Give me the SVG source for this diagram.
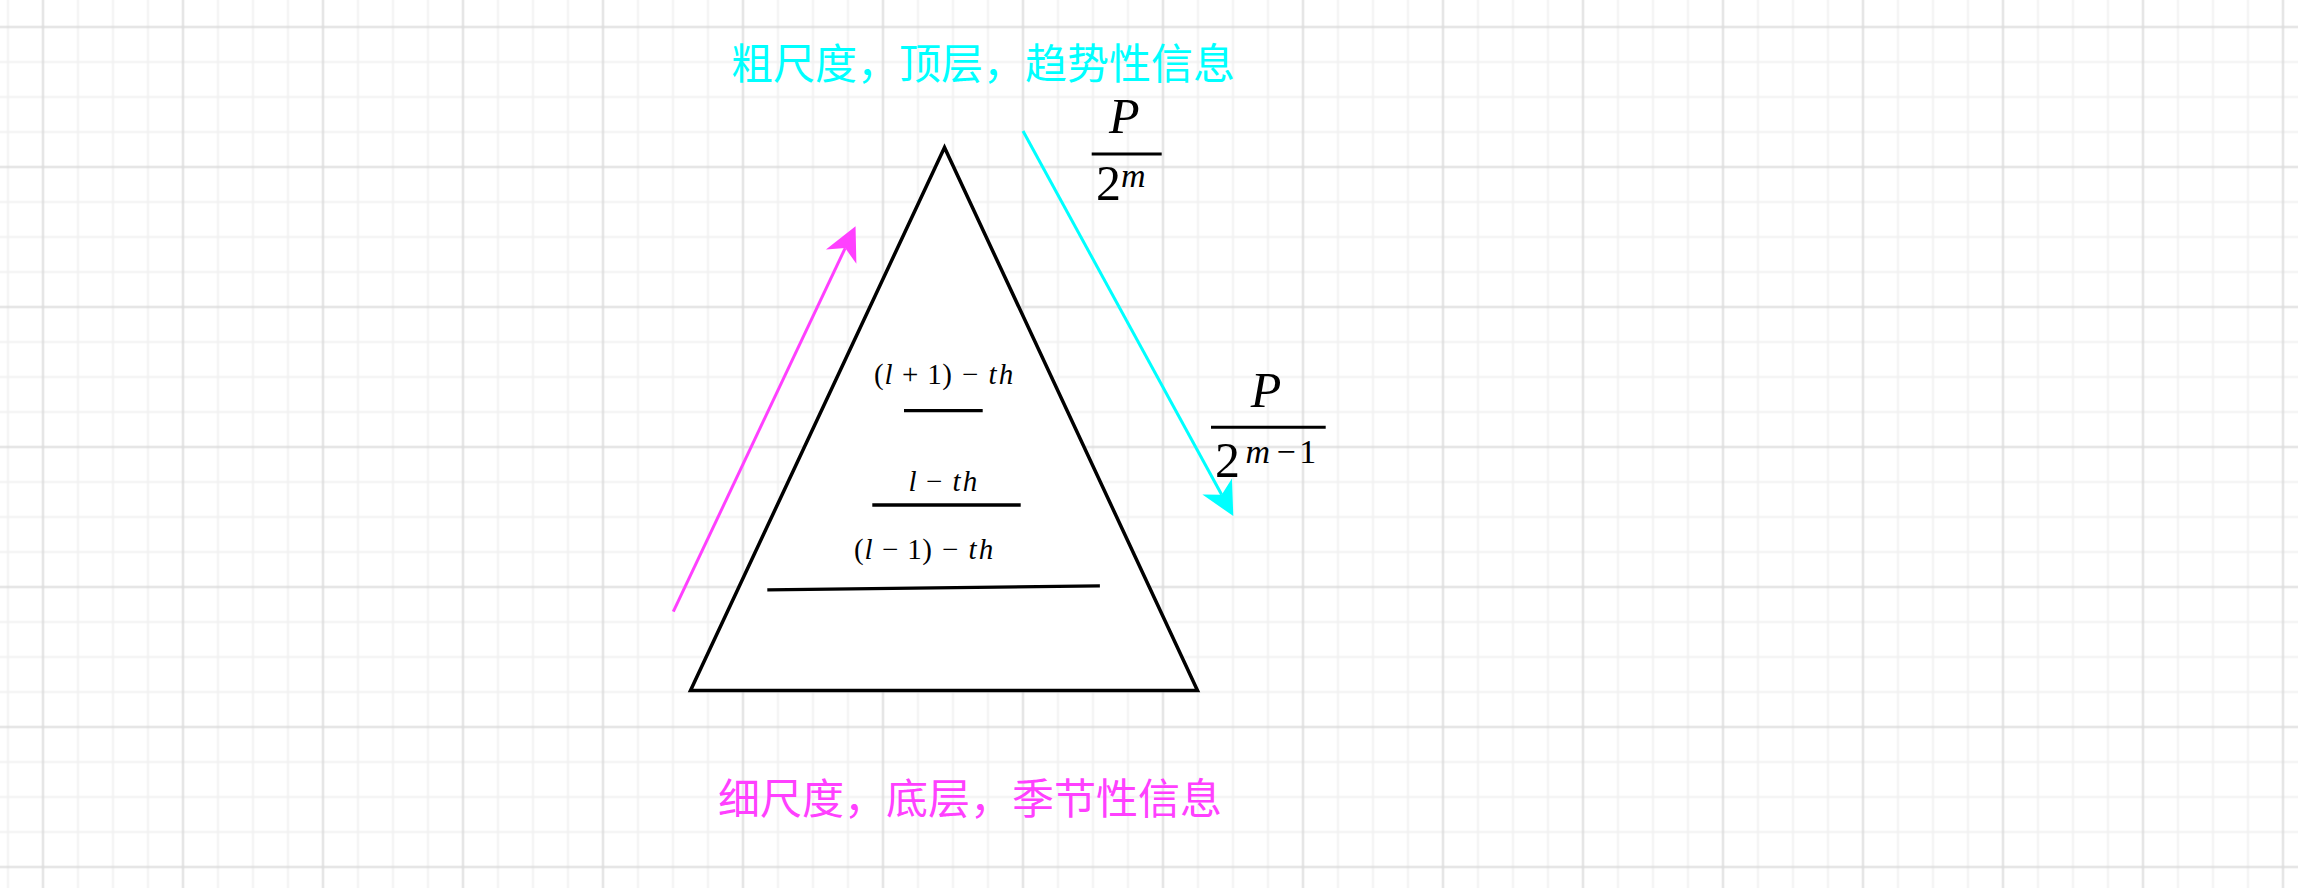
<svg xmlns="http://www.w3.org/2000/svg" width="2298" height="888" viewBox="0 0 2298 888">
  <style>
    .cap { font-family: "Noto Sans CJK SC", "Noto Sans", sans-serif; font-size: 42px; }
    .math { font-family: "Liberation Serif", serif; font-size: 29px; fill: #000; text-anchor: middle; }
    .big { font-family: "Liberation Serif", serif; font-size: 50px; fill: #000; }
    .sup { font-family: "Liberation Serif", serif; font-size: 34px; fill: #000; }
    .supc { text-anchor: middle; }
    .it { font-style: italic; }
    .rule { stroke: #000; stroke-width: 3.3; fill: none; }
    .bar { stroke: #000; stroke-width: 3; fill: none; }
  </style>
  <defs>
    <pattern id="grid" patternUnits="userSpaceOnUse" x="-44.5" y="-60.5" width="140" height="140">
      <path d="M17.5 0V140M52.5 0V140M122.5 0V140M0 17.5H140M0 52.5H140M0 122.5H140" stroke="#f1f1f1" stroke-width="2" fill="none"/>
      <path d="M87.5 0V140M0 87.5H140" stroke="#dddddd" stroke-width="2" fill="none"/>
    </pattern>
    <marker id="headM" markerUnits="userSpaceOnUse" markerWidth="40" markerHeight="40" viewBox="-12 -18 38 36" refX="0" refY="0" orient="auto">
      <path d="M23 0L-9 -16L0 0L-9 16Z" fill="#ff40ff"/>
    </marker>
    <marker id="headC" markerUnits="userSpaceOnUse" markerWidth="40" markerHeight="40" viewBox="-12 -18 38 36" refX="0" refY="0" orient="auto">
      <path d="M23 0L-9 -16L0 0L-9 16Z" fill="#00ffff"/>
    </marker>
  </defs>
  <rect x="0" y="0" width="2298" height="888" fill="#ffffff"/>
  <rect x="0" y="0" width="2298" height="888" fill="url(#grid)"/>

  <g id="pyramid">
    <polygon points="944.5,147.5 690.5,690.5 1197.5,690.5" fill="#ffffff" stroke="#000" stroke-width="3.5" stroke-linejoin="miter"/>
  </g>

  <g id="level-l-plus-1">
    <line class="rule" x1="904" y1="410.7" x2="982.7" y2="410.7"/>
    <text class="math" y="383.5"><tspan x="878.8">(</tspan><tspan x="888.6" class="it">l</tspan><tspan x="910.2">+</tspan><tspan x="934.6">1</tspan><tspan x="947.2">)</tspan><tspan x="970.1">−</tspan><tspan x="992.6" class="it">t</tspan><tspan x="1005.9" class="it">h</tspan></text>
  </g>

  <g id="level-l">
    <line class="rule" x1="872.3" y1="505" x2="1020.7" y2="505"/>
    <text class="math" y="491"><tspan x="912.5" class="it">l</tspan><tspan x="934.1">−</tspan><tspan x="956.6" class="it">t</tspan><tspan x="969.9" class="it">h</tspan></text>
  </g>

  <g id="level-l-minus-1">
    <line class="rule" x1="767.3" y1="589.8" x2="1099.9" y2="585.8"/>
    <text class="math" y="558.5"><tspan x="858.8">(</tspan><tspan x="868.6" class="it">l</tspan><tspan x="890.2">−</tspan><tspan x="914.6">1</tspan><tspan x="927.2">)</tspan><tspan x="950.1">−</tspan><tspan x="972.6" class="it">t</tspan><tspan x="985.9" class="it">h</tspan></text>
  </g>

  <g id="frac-top">
    <text class="big it" x="1109" y="133">P</text>
    <line class="bar" x1="1091.7" y1="154" x2="1161.7" y2="154"/>
    <text class="big" x="1096" y="200">2</text>
    <text class="sup it" x="1121" y="187">m</text>
  </g>

  <g id="frac-bottom">
    <text class="big it" x="1250.7" y="406.7">P</text>
    <line class="bar" x1="1211" y1="427.3" x2="1325.7" y2="427.3"/>
    <text class="big" x="1215" y="476.7">2</text>
    <text class="sup supc" y="463"><tspan x="1257.9" class="it">m</tspan><tspan x="1286.1">−</tspan><tspan x="1307.8">1</tspan></text>
  </g>

  <g id="caption-top">
    <text class="cap" x="731" y="78.5" fill="#00ffff">粗尺度，顶层，趋势性信息</text>
  </g>

  <g id="caption-bottom">
    <text class="cap" x="718" y="813.5" fill="#ff40ff">细尺度，底层，季节性信息</text>
  </g>

  <g id="connectors" fill="none" stroke-width="3">
    <line x1="673.3" y1="611.7" x2="845.2" y2="248.1" stroke="#ff40ff" marker-end="url(#headM)"/>
    <line x1="1023" y1="131" x2="1221.7" y2="494.8" stroke="#00ffff" marker-end="url(#headC)"/>
  </g>
</svg>
